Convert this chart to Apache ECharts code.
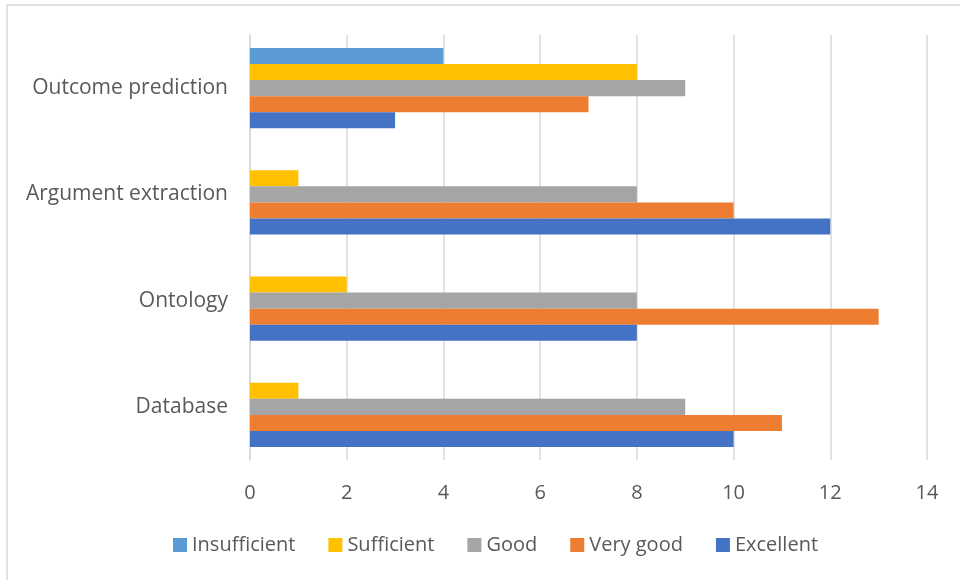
<!DOCTYPE html>
<html><head><meta charset="utf-8">
<script src="https://cdn.jsdelivr.net/npm/echarts@6/dist/echarts.min.js"></script>
<style>html,body{margin:0;padding:0;background:#fff}#c{width:960px;height:580px}</style>
</head><body><div id="c"></div>
<script>
const categories = ['Database', 'Ontology', 'Argument extraction', 'Outcome prediction'];
const excellent = [10, 8, 12, 3];
const veryGood = [11, 13, 10, 7];
const good = [9, 8, 8, 9];
const sufficient = [1, 2, 1, 8];
const insufficient = [0, 0, 0, 4];
const legendOrder = ['Insufficient', 'Sufficient', 'Good', 'Very good', 'Excellent'];

const chart = echarts.init(document.getElementById('c'));
const font = 'Open Sans, Liberation Sans, sans-serif';
function s(name, data, color) {
  return { name, type: 'bar', data, itemStyle: { color }, barGap: '0%', barCategoryGap: '24.5%' };
}
chart.setOption({
  animation: false,
  graphic: [{ type: 'rect', shape: { x: 7, y: 5, width: 1000, height: 600 }, style: { fill: 'none', stroke: '#d9d9d9', lineWidth: 1.5 }, silent: true }],
  grid: { left: 250, right: 33, top: 35, bottom: 120 },
  legend: {
    data: legendOrder, bottom: 20, left: 168, itemWidth: 14, itemHeight: 14, itemGap: 33,
    icon: 'rect', textStyle: { fontSize: 20, color: '#595959', fontFamily: font }
  },
  xAxis: {
    type: 'value', min: 0, max: 14, interval: 2,
    axisLine: { show: false }, axisTick: { show: false },
    splitLine: { lineStyle: { color: '#d9d9d9', width: 1.5 } },
    axisLabel: { fontSize: 20, color: '#595959', fontFamily: font, margin: 23 }
  },
  yAxis: {
    type: 'category', data: categories,
    axisLine: { lineStyle: { color: '#d9d9d9', width: 1.5 } }, axisTick: { show: false },
    axisLabel: { fontSize: 21, color: '#595959', fontFamily: font, margin: 22 }
  },
  series: [
    s('Insufficient', insufficient, '#5B9BD5'),
    s('Sufficient', sufficient, '#FFC000'),
    s('Good', good, '#A5A5A5'),
    s('Very good', veryGood, '#ED7D31'),
    s('Excellent', excellent, '#4472C4')
  ]
});
</script></body></html>
